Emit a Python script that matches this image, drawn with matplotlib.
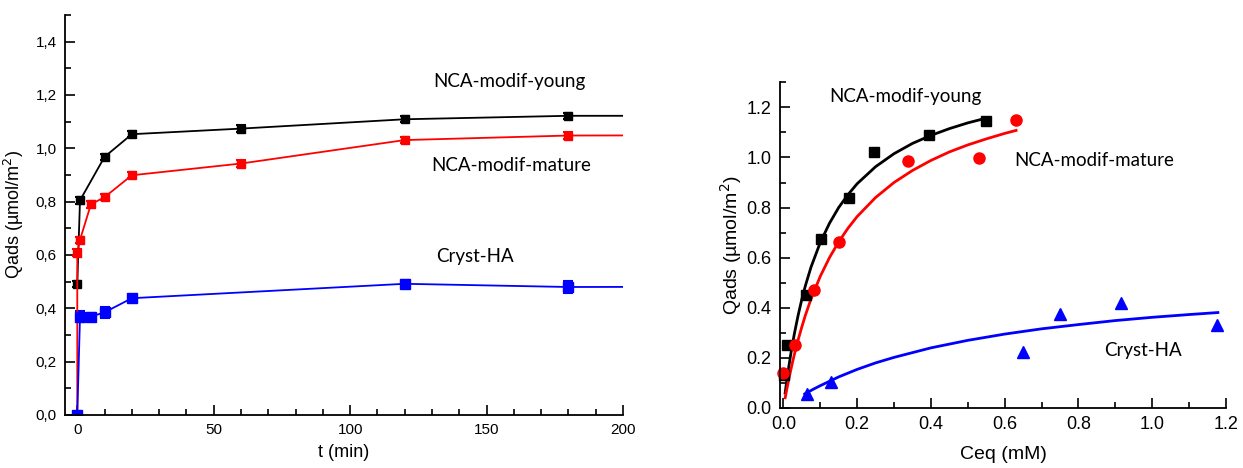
import matplotlib
matplotlib.use("Agg")
import matplotlib.pyplot as plt
from matplotlib.ticker import MultipleLocator, FuncFormatter

# ---------------- data: left panel (kinetics) ----------------
t_young = [0, 1, 10, 20, 60, 120, 180, 240]
q_young = [0.492, 0.805, 0.968, 1.053, 1.074, 1.109, 1.122, 1.122]
e_young = [0.012, 0.012, 0.012, 0.012, 0.012, 0.012, 0.012, 0.0]

t_mature = [0, 0, 1, 5, 10, 20, 60, 120, 180, 240]
q_mature = [0.0, 0.609, 0.657, 0.790, 0.817, 0.899, 0.943, 1.031, 1.048, 1.049]
e_mature = [0.0, 0.012, 0.012, 0.012, 0.012, 0.012, 0.012, 0.012, 0.012, 0.0]

t_cryst = [0, 1, 5, 10, 20, 120, 180, 240]
q_cryst = [0.0, 0.369, 0.369, 0.385, 0.438, 0.492, 0.480, 0.481]
e_cryst = [0.0, 0.02, 0.012, 0.02, 0.012, 0.015, 0.022, 0.0]

# ---------------- data: right panel (isotherms) ----------------
c_young = [0.002, 0.011, 0.061, 0.101, 0.178, 0.246, 0.394, 0.550]
q_young_iso = [0.130, 0.250, 0.453, 0.673, 0.840, 1.020, 1.091, 1.147]
c_mature = [0.000, 0.032, 0.082, 0.152, 0.338, 0.531, 0.630]
q_mature_iso = [0.141, 0.251, 0.471, 0.664, 0.987, 0.999, 1.148]
c_cryst = [0.064, 0.129, 0.650, 0.749, 0.916, 1.176]
q_cryst_iso = [0.057, 0.104, 0.224, 0.375, 0.420, 0.333]

# fitted curves
fx_young = [0.005, 0.0075, 0.01, 0.015, 0.02, 0.025, 0.03, 0.04, 0.05, 0.06, 0.075, 0.1,
            0.125, 0.15, 0.175, 0.2, 0.25, 0.3, 0.35, 0.4, 0.45, 0.5, 0.55]
fy_young = [0.060, 0.088, 0.115, 0.166, 0.213, 0.256, 0.297, 0.369, 0.433, 0.489, 0.562, 0.660,
            0.737, 0.800, 0.851, 0.895, 0.963, 1.015, 1.056, 1.088, 1.115, 1.138, 1.157]
fx_mature = [0.005, 0.0075, 0.01, 0.015, 0.02, 0.025, 0.03, 0.04, 0.05, 0.06, 0.075, 0.1,
             0.125, 0.15, 0.175, 0.2, 0.25, 0.3, 0.35, 0.4, 0.45, 0.5, 0.55, 0.6, 0.631]
fy_mature = [0.041, 0.060, 0.079, 0.116, 0.150, 0.183, 0.214, 0.271, 0.323, 0.371, 0.435, 0.525,
             0.600, 0.663, 0.717, 0.764, 0.840, 0.900, 0.948, 0.988, 1.022, 1.050, 1.074, 1.096, 1.108]
fx_cryst = [0.058, 0.08, 0.1, 0.15, 0.2, 0.25, 0.3, 0.4, 0.5, 0.6, 0.7, 0.8, 0.9, 1.0, 1.1, 1.178]
fy_cryst = [0.056, 0.074, 0.089, 0.124, 0.154, 0.180, 0.202, 0.240, 0.270, 0.295, 0.316, 0.333,
            0.349, 0.362, 0.373, 0.381]

labels = ["NCA-modif-young", "NCA-modif-mature", "Cryst-HA"]

TICK_FONT = "Liberation Sans"
LABEL_FONT = "Lato"

fig = plt.figure(figsize=(12.43, 4.68), dpi=100)

# ================= left panel =================
ax1 = fig.add_axes([65/1243, (468-415)/468, (623-65)/1243, (415-15)/468])
for t, q, e, col, ms in [(t_young, q_young, e_young, "black", 6),
                          (t_mature, q_mature, e_mature, "red", 6),
                          (t_cryst, q_cryst, e_cryst, "blue", 7)]:
    ax1.errorbar(t, q, yerr=e, color=col, lw=1.3, marker="s", ms=ms,
                 mec=col, mfc=col, capsize=3.5, elinewidth=1.5, capthick=1.5)
ax1.set_xlim(-4.5, 200)
ax1.set_ylim(0, 1.5)
ax1.xaxis.set_major_locator(MultipleLocator(50))
ax1.xaxis.set_minor_locator(MultipleLocator(10))
ax1.yaxis.set_major_locator(MultipleLocator(0.2))
ax1.yaxis.set_minor_locator(MultipleLocator(0.1))
ax1.yaxis.set_major_formatter(FuncFormatter(lambda v, p: f"{v:.1f}".replace(".", ",") if v < 1.45 else ""))
ax1.xaxis.set_major_formatter(FuncFormatter(lambda v, p: f"{v:.0f}"))
ax1.set_xlabel("t (min)", fontsize=13, family=TICK_FONT, labelpad=5)
ax1.set_ylabel("Qads (µmol/m$^2$)", fontsize=13, family=TICK_FONT, labelpad=7)
ax1.text(158.3, 1.25, labels[0], fontsize=13.5, family=LABEL_FONT, ha="center", va="center")
ax1.text(158.9, 0.937, labels[1], fontsize=13.5, family=LABEL_FONT, ha="center", va="center")
ax1.text(145.8, 0.595, labels[2], fontsize=13.5, family=LABEL_FONT, ha="center", va="center")

# ================= right panel =================
ax2 = fig.add_axes([780/1243, (468-408)/468, (1226-780)/1243, (408-82.3)/468])
ax2.plot(fx_young, fy_young, color="black", lw=2)
ax2.plot(fx_mature, fy_mature, color="red", lw=2)
ax2.plot(fx_cryst, fy_cryst, color="blue", lw=2)
ax2.plot(c_young, q_young_iso, "s", color="black", ms=7, clip_on=False)
ax2.plot(c_mature, q_mature_iso, "o", color="red", ms=8, clip_on=False)
ax2.plot(c_cryst, q_cryst_iso, "^", color="blue", ms=8, clip_on=False)
ax2.set_xlim(-0.009, 1.2)
ax2.set_ylim(0, 1.3)
ax2.xaxis.set_major_locator(MultipleLocator(0.2))
ax2.xaxis.set_minor_locator(MultipleLocator(0.1))
ax2.yaxis.set_major_locator(MultipleLocator(0.2))
ax2.yaxis.set_minor_locator(MultipleLocator(0.1))
ax2.xaxis.set_major_formatter(FuncFormatter(lambda v, p: f"{v:.1f}"))
ax2.yaxis.set_major_formatter(FuncFormatter(lambda v, p: f"{v:.1f}"))
ax2.set_xlabel("Ceq (mM)", fontsize=14, family=TICK_FONT, labelpad=9)
ax2.set_ylabel("Qads (µmol/m$^2$)", fontsize=14, family=TICK_FONT, labelpad=2)
ax2.text(0.331, 1.244, labels[0], fontsize=13.5, family=LABEL_FONT, ha="center", va="center")
ax2.text(0.843, 0.987, labels[1], fontsize=13.5, family=LABEL_FONT, ha="center", va="center")
ax2.text(0.974, 0.231, labels[2], fontsize=13.5, family=LABEL_FONT, ha="center", va="center")

for ax, fs in [(ax1, 11), (ax2, 13)]:
    ax.spines["top"].set_visible(False)
    ax.spines["right"].set_visible(False)
    ax.spines["left"].set_linewidth(1.3)
    ax.spines["bottom"].set_linewidth(1.3)
    ax.tick_params(which="major", direction="in", length=7, width=1.2, labelsize=fs, pad=6)
    ax.tick_params(which="minor", direction="in", length=4, width=1.2)
    for lab in ax.get_xticklabels() + ax.get_yticklabels():
        lab.set_family(TICK_FONT)

fig.savefig("out.png", dpi=100)
